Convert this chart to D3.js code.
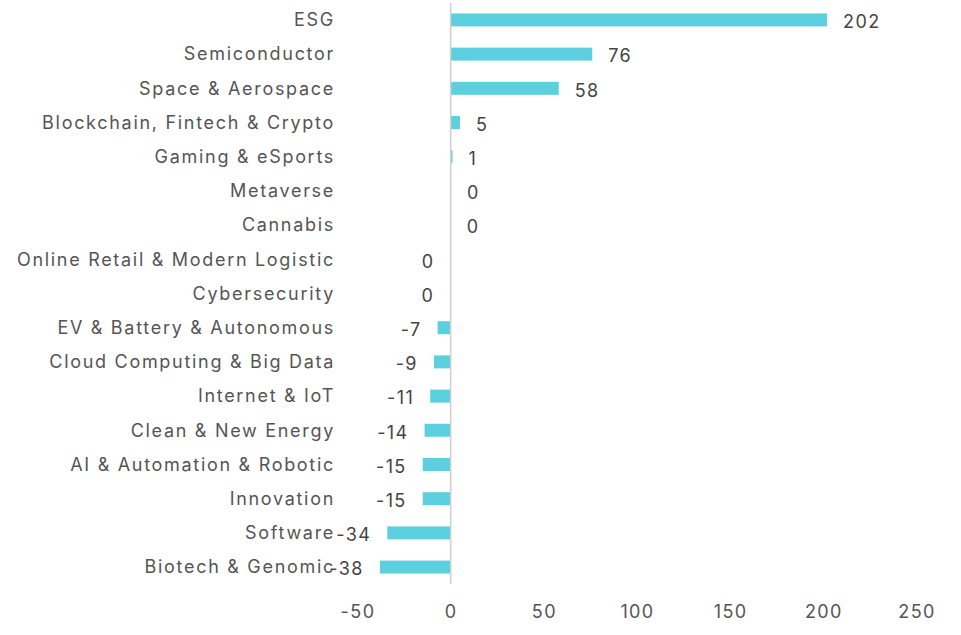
<!DOCTYPE html>
<html>
  <head>
    <meta charset="utf-8">
    <title>Theme flows</title>
    <script src="https://cdn.jsdelivr.net/npm/d3@7/dist/d3.min.js"></script>
    <style>
      body { margin: 0; background: #fff; }
      text { font-family: Inter, "Open Sans", sans-serif; letter-spacing: 1.4px; }
      .cat { letter-spacing: 1.7px; }
    </style>
  </head>
  <body>
    <svg width="961" height="635"></svg>

    <script>
      const themes = [
        "ESG", "Semiconductor", "Space & Aerospace", "Blockchain, Fintech & Crypto",
        "Gaming & eSports", "Metaverse", "Cannabis", "Online Retail & Modern Logistic",
        "Cybersecurity", "EV & Battery & Autonomous", "Cloud Computing & Big Data",
        "Internet & IoT", "Clean & New Energy", "AI & Automation & Robotic",
        "Innovation", "Software", "Biotech & Genomic"
      ];
      const flows = [202, 76, 58, 5, 1, 0.2, 0.1, -0.1, -0.2, -7, -9, -11, -14, -15, -15, -34, -38];
      const xTicks = [-50, 0, 50, 100, 150, 200, 250];

      const svg = d3.select("svg");
      const barColor = "#5dd0df";

      const x = d3.scaleLinear()
          .domain([-50, 250])
          .range([357.5, 916.5]);

      const y = d3.scaleBand()
          .domain(themes)
          .range([3, 584])
          .paddingInner(0.62)
          .paddingOuter(0.305);

      const rows = themes.map((t, i) => ({ theme: t, value: flows[i] }));

      // bars
      svg.append("g").selectAll("rect")
        .data(rows)
        .join("rect")
          .attr("x", d => x(Math.min(0, d.value)))
          .attr("y", d => y(d.theme))
          .attr("width", d => Math.abs(x(d.value) - x(0)))
          .attr("height", y.bandwidth())
          .attr("fill", barColor);

      // zero line
      svg.append("line")
          .attr("x1", x(0)).attr("x2", x(0))
          .attr("y1", 3).attr("y2", 584)
          .attr("stroke", "#cfcfcf")
          .attr("stroke-width", 1.5);

      // category labels
      svg.append("g").selectAll("text")
        .data(rows)
        .join("text")
          .attr("class", "cat")
          .attr("x", 335)
          .attr("y", d => y(d.theme) + y.bandwidth() / 2)
          .attr("dy", "0.35em")
          .attr("text-anchor", "end")
          .attr("font-size", 18)
          .attr("fill", "#555")
          .text(d => d.theme);

      // value labels
      svg.append("g").selectAll("text")
        .data(rows)
        .join("text")
          .attr("x", d => d.value >= 0 ? x(d.value) + 16 : x(d.value) - 16)
          .attr("y", d => y(d.theme) + y.bandwidth() / 2 + 2)
          .attr("dy", "0.35em")
          .attr("text-anchor", d => d.value >= 0 ? "start" : "end")
          .attr("font-size", 18)
          .attr("fill", "#444")
          .text(d => String(Math.round(d.value)));

      // x axis
      const xAxis = svg.append("g")
          .attr("transform", "translate(0,605)")
          .call(d3.axisBottom(x).tickValues(xTicks).tickSize(0).tickPadding(0)
            .tickFormat(d => String(d)));
      xAxis.select(".domain").remove();
      xAxis.selectAll("text")
          .attr("font-size", 18)
          .attr("font-family", null)
          .attr("fill", "#555");
    </script>
  </body>
</html>
